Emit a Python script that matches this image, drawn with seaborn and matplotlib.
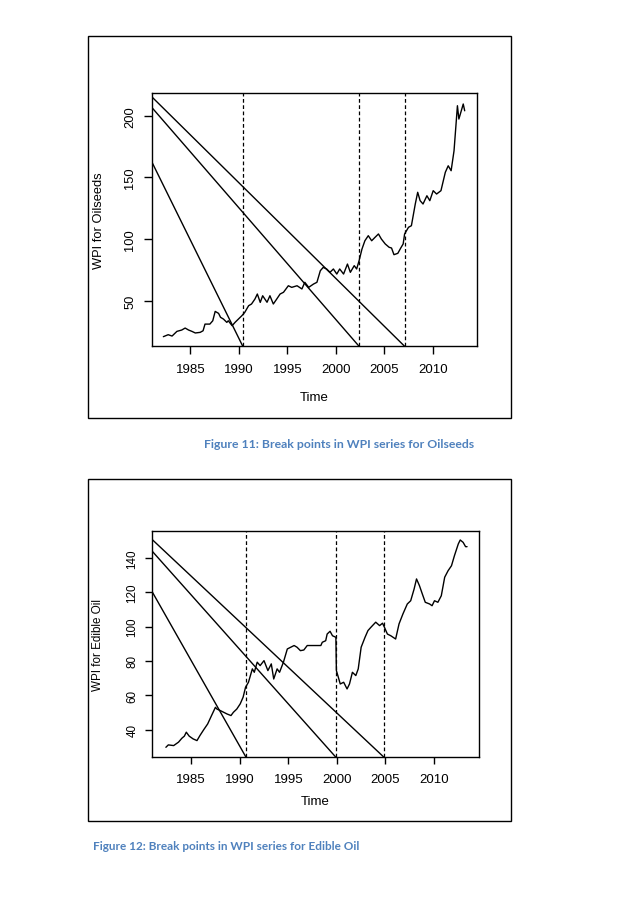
import matplotlib
matplotlib.use("Agg")
import matplotlib.pyplot as plt
from matplotlib.patches import Rectangle
import pandas as pd
import seaborn as sns

# WPI oilseeds
years_oil = [1982.2, 1982.7, 1983.1, 1983.6, 1984.1, 1984.45, 1984.8, 1985.15, 1985.5, 1986.0,
             1986.3, 1986.5, 1987.0, 1987.3, 1987.55, 1987.9, 1988.1, 1988.4, 1988.75, 1988.9,
             1989.3, 1989.6, 1989.95, 1990.3, 1990.6, 1991.0, 1991.3, 1991.65, 1991.9, 1992.2,
             1992.45, 1992.9, 1993.2, 1993.55, 1993.9, 1994.25, 1994.6, 1995.1, 1995.45, 1996.0,
             1996.5, 1996.8, 1997.2, 1997.7, 1998.05, 1998.4, 1998.7, 1999.05, 1999.4, 1999.75,
             2000.1, 2000.4, 2000.8, 2001.2, 2001.5, 2001.9, 2002.15, 2002.4, 2002.7, 2003.0,
             2003.35, 2003.7, 2004.05, 2004.4, 2004.7, 2005.1, 2005.5, 2005.75, 2006.0, 2006.4,
             2006.7, 2006.95, 2007.1, 2007.5, 2007.8, 2008.2, 2008.45, 2008.7, 2009.0, 2009.4,
             2009.7, 2010.05, 2010.4, 2010.85, 2011.3, 2011.6, 2011.9, 2012.2, 2012.55, 2012.7,
             2013.0, 2013.15, 2013.3]
wpi_oil = [20.8, 22.4, 21.3, 25.1, 26.2, 27.8, 26.2, 25.1, 23.8, 24.3,
           25.6, 31.0, 31.0, 33.7, 41.3, 39.7, 36.5, 35.1, 32.4, 33.7,
           29.7, 32.4, 35.1, 37.8, 40.5, 45.9, 47.3, 51.3, 55.4, 48.6,
           54.0, 48.7, 54.0, 47.3, 51.3, 55.4, 56.8, 62.1, 60.8, 62.1,
           59.5, 64.9, 60.8, 63.5, 64.9, 74.3, 77.0, 75.7, 73.0, 75.7,
           71.6, 75.7, 71.6, 79.7, 73.0, 78.4, 75.7, 82.4, 91.9, 98.6,
           102.7, 98.6, 101.4, 104.1, 100.0, 96.0, 93.3, 92.7, 87.3, 88.4,
           92.7, 96.0, 104.1, 109.5, 110.8, 128.4, 137.9, 131.1, 128.4, 135.1,
           131.1, 139.2, 136.5, 139.2, 154.1, 159.4, 155.4, 171.6, 208.1, 197.3,
           205.4, 209.5, 204.0]
breaks_oil = [1990.4, 2002.4, 2007.1]
diag_start_oil = [162.7, 206.8, 215.4]

# WPI edible oil
years_edible = [1982.4, 1982.65, 1983.2, 1983.7, 1984.05, 1984.3, 1984.5, 1984.8, 1985.2, 1985.6,
                1985.9, 1986.3, 1986.7, 1987.1, 1987.5, 1987.65, 1988.0, 1988.35, 1988.7, 1989.1,
                1989.35, 1989.7, 1990.05, 1990.35, 1990.6, 1990.9, 1991.3, 1991.5, 1991.8, 1992.1,
                1992.5, 1992.9, 1993.25, 1993.5, 1993.85, 1994.1, 1994.5, 1994.9, 1995.25, 1995.6,
                1995.9, 1996.25, 1996.6, 1996.95, 1997.65, 1998.35, 1998.5, 1998.85, 1999.0, 1999.3,
                1999.55, 1999.9, 1999.95, 2000.1, 2000.35, 2000.7, 2001.05, 2001.3, 2001.6, 2001.95,
                2002.2, 2002.5, 2002.9, 2003.2, 2003.5, 2004.0, 2004.4, 2004.7, 2004.9, 2005.2,
                2005.55, 2006.05, 2006.4, 2006.8, 2007.25, 2007.6, 2007.95, 2008.2, 2008.5, 2008.8,
                2009.1, 2009.55, 2009.8, 2010.05, 2010.4, 2010.75, 2011.1, 2011.45, 2011.8, 2012.1,
                2012.5, 2012.7, 2013.0, 2013.25, 2013.4]
wpi_edible = [29.7, 31.1, 30.7, 32.7, 35.0, 36.2, 38.5, 36.2, 34.6, 33.6,
              36.5, 40.0, 43.3, 48.2, 53.0, 52.0, 51.1, 50.1, 49.1, 48.2,
              50.1, 52.0, 55.0, 58.9, 64.7, 67.6, 75.4, 73.4, 79.3, 77.3,
              80.2, 74.4, 78.3, 69.5, 75.4, 73.4, 79.3, 87.0, 88.0, 89.0,
              88.0, 86.0, 86.4, 89.0, 89.0, 89.0, 90.9, 91.8, 95.7, 97.3,
              94.7, 93.8, 74.4, 71.5, 66.6, 67.6, 63.7, 66.6, 73.4, 71.5,
              75.4, 88.0, 93.8, 97.7, 99.6, 102.6, 100.6, 102.0, 99.6, 95.7,
              94.7, 92.8, 101.6, 107.4, 113.2, 115.1, 121.9, 127.8, 123.9, 119.0,
              114.2, 113.2, 112.2, 115.1, 114.2, 118.0, 128.8, 132.6, 135.5, 141.3,
              148.2, 150.5, 149.1, 146.6, 146.6]
breaks_edible = [1990.65, 1999.9, 2004.85]
diag_start_edible = [120.2, 143.9, 150.7]

xticks = [1985, 1990, 1995, 2000, 2005, 2010]
caption_oil = "Figure 11: Break points in WPI series for Oilseeds"
caption_edible = "Figure 12: Break points in WPI series for Edible Oil"

sns.set_theme(style="ticks", rc={"axes.edgecolor": "black", "axes.linewidth": 1.0,
                                 "xtick.color": "black", "ytick.color": "black",
                                 "axes.labelcolor": "black"})
plt.rcParams["font.family"] = ["Liberation Sans", "DejaVu Sans"]


def draw_panel(ax, years, values, breaks, diag_start, xlim, ylim, yticks, ylabel,
               fs_x, fs_y, tick_len, xpad, xlab_y, ylab_x):
    df = pd.DataFrame({"Time": years, "WPI": values})
    sns.lineplot(data=df, x="Time", y="WPI", ax=ax, color="black", lw=1.0,
                 estimator=None)
    #break lines (dashed) and the sloping lines down to each break
    for b, y0 in zip(breaks, diag_start):
        ax.axvline(b, color="black", lw=0.9, ls=(0, (3, 2)))
        ax.plot([xlim[0], b], [y0, ylim[0]], color="black", lw=1.0)
    ax.set_xlim(xlim)
    ax.set_ylim(ylim)
    ax.set_xticks(xticks)
    ax.set_yticks(yticks)
    ax.tick_params(axis="x", labelsize=fs_x, length=tick_len, width=1.0, pad=xpad)
    ax.tick_params(axis="y", labelsize=fs_y, length=tick_len, width=1.0, pad=5)
    for lab in ax.get_yticklabels():
        lab.set_rotation(90)
        lab.set_va("center")
    ax.set_xlabel("Time", fontsize=fs_x)
    ax.set_ylabel(ylabel, fontsize=fs_y)
    ax.xaxis.set_label_coords(0.5, xlab_y)
    ax.xaxis.label.set_va("center")
    ax.yaxis.set_label_coords(ylab_x, 0.5)
    ax.yaxis.label.set_va("center")


fig = plt.figure(figsize=(6.38, 9.03), dpi=100)

ax1 = fig.add_axes([0.2378, 0.6154, 0.5103, 0.2802])
draw_panel(ax1, years_oil, wpi_oil, breaks_oil, diag_start_oil,
           (1981.0, 2014.6), (13.0, 218.2), [50, 100, 150, 200], "WPI for Oilseeds",
           9.5, 9.3, 6, 6, -0.199, -0.162)

ax2 = fig.add_axes([0.2387, 0.1603, 0.5116, 0.2503])
draw_panel(ax2, years_edible, wpi_edible, breaks_edible, diag_start_edible,
           (1981.0, 2014.6), (23.9, 155.6), [40, 60, 80, 100, 120, 140], "WPI for Edible Oil",
           9.5, 8.4, 5, 6, -0.193, -0.165)

#frames around each figure
fig.add_artist(Rectangle((0.1379, 0.536), 0.663, 0.423, transform=fig.transFigure,
                         fill=False, edgecolor="black", lw=1.0))
fig.add_artist(Rectangle((0.1379, 0.0897), 0.6625, 0.3784, transform=fig.transFigure,
                         fill=False, edgecolor="black", lw=1.0))

#captions
cap_kw = dict(color="#4F81BD", fontweight="bold", family=["Lato", "DejaVu Sans"])
fig.text(339 / 638, 1 - 445 / 903, caption_oil, ha="center", va="center", fontsize=8.8, **cap_kw)
fig.text(93 / 638, 1 - 847 / 903, caption_edible, ha="left", va="center", fontsize=8.5, **cap_kw)

fig.savefig("out.png", dpi=100)
plt.close(fig)
